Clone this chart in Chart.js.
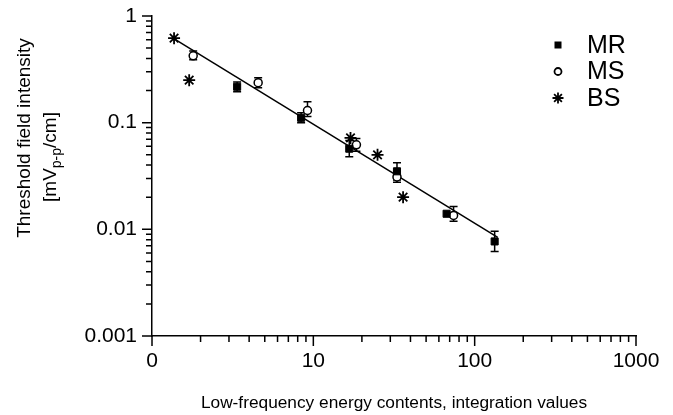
<!DOCTYPE html>
<html>
<head>
<meta charset="utf-8">
<script src="https://cdn.jsdelivr.net/npm/chart.js@4.4.0/dist/chart.umd.min.js"></script>
<style>
  body { margin: 0; background: #fff; }
</style>
</head>
<body>
<canvas id="thresholdChart" width="673" height="415"></canvas>
<script>
const FONT = "'Liberation Sans', Arial, sans-serif";

// MR group: energy contents, threshold and error range
const mrEnergy    = [3.37, 8.4, 16.7, 33, 67, 133];
const mrThreshold = [0.217, 0.111, 0.057, 0.035, 0.014, 0.0077];
const mrLow       = [0.195, 0.1, 0.048, 0.029, null, 0.0062];
const mrHigh      = [0.241, 0.124, 0.068, 0.042, null, 0.0096];

// MS group
const msEnergy    = [1.8, 4.55, 9.2, 18.5, 33, 74];
const msThreshold = [0.423, 0.237, 0.13, 0.062, 0.031, 0.0135];
const msLow       = [0.388, 0.212, 0.114, 0.054, 0.0276, 0.0119];
const msHigh      = [0.47, 0.263, 0.157, 0.071, 0.035, 0.0164];

// BS group (no error bars)
const bsEnergy    = [1.37, 1.7, 17, 25, 36];
const bsThreshold = [0.62, 0.25, 0.072, 0.05, 0.02];

// regression line end points
const fitEnergy    = [1.35, 139];
const fitThreshold = [0.62, 0.0084];

const xDecades = [1, 10, 100, 1000];
const xTickLabels = ['0', '10', '100', '1000'];
const yDecades = [0.001, 0.01, 0.1, 1];
const yTickLabels = ['0.001', '0.01', '0.1', '1'];

function points(xs, ys) {
  return xs.map((x, i) => ({ x: x, y: ys[i] }));
}

// 1..9 per decade, decades flagged as major
function logTicks(decades) {
  const ticks = [];
  for (let d = 0; d < decades.length - 1; d++) {
    for (let k = 1; k <= 9; k++) {
      ticks.push({ value: k === 1 ? decades[d] : decades[d] * k, major: k === 1 });
    }
  }
  ticks.push({ value: decades[decades.length - 1], major: true });
  return ticks;
}

const errorBars = {
  id: 'errorBars',
  beforeDatasetsDraw(chart) {
    const ctx = chart.ctx;
    const xs = chart.scales.x, ys = chart.scales.y;
    const groups = [[mrEnergy, mrLow, mrHigh], [msEnergy, msLow, msHigh]];
    ctx.save();
    ctx.strokeStyle = '#000';
    ctx.lineWidth = 1.5;
    groups.forEach(([ex, lo, hi]) => {
      ex.forEach((x, i) => {
        if (lo[i] == null) return;
        const px = xs.getPixelForValue(x);
        const y1 = ys.getPixelForValue(lo[i]);
        const y2 = ys.getPixelForValue(hi[i]);
        ctx.beginPath();
        ctx.moveTo(px, y1); ctx.lineTo(px, y2);
        ctx.moveTo(px - 4, y1); ctx.lineTo(px + 4, y1);
        ctx.moveTo(px - 4, y2); ctx.lineTo(px + 4, y2);
        ctx.stroke();
      });
    });
    ctx.restore();
  }
};

// outward tick marks, longer on decades
const axisTicks = {
  id: 'axisTicks',
  afterDraw(chart) {
    const ctx = chart.ctx;
    const area = chart.chartArea;
    const xs = chart.scales.x, ys = chart.scales.y;
    ctx.save();
    ctx.strokeStyle = '#000';
    ctx.lineWidth = 1.5;
    ctx.beginPath();
    xs.ticks.forEach(t => {
      const px = xs.getPixelForValue(t.value);
      ctx.moveTo(px, area.bottom);
      ctx.lineTo(px, area.bottom + (t.major ? 10 : 6));
    });
    ys.ticks.forEach(t => {
      const py = ys.getPixelForValue(t.value);
      ctx.moveTo(area.left, py);
      ctx.lineTo(area.left - (t.major ? 10 : 6), py);
    });
    ctx.stroke();
    ctx.restore();
  }
};

// two-line rotated y title with p-p subscript
const yTitle = {
  id: 'yTitle',
  afterDraw(chart) {
    const ctx = chart.ctx;
    ctx.save();
    ctx.fillStyle = '#000';
    ctx.textBaseline = 'middle';
    ctx.translate(25, 138);
    ctx.rotate(-Math.PI / 2);
    ctx.font = '19px ' + FONT;
    ctx.textAlign = 'center';
    ctx.fillText('Threshold field intensity', 0, 0);
    ctx.restore();

    ctx.save();
    ctx.fillStyle = '#000';
    ctx.textBaseline = 'middle';
    ctx.translate(51, 157);
    ctx.rotate(-Math.PI / 2);
    ctx.textAlign = 'left';
    const mainFont = '19px ' + FONT, subFont = '14px ' + FONT;
    ctx.font = mainFont;
    const w1 = ctx.measureText('[mV').width;
    const w3 = ctx.measureText('/cm]').width;
    ctx.font = subFont;
    const w2 = ctx.measureText('p-p').width;
    let x = -(w1 + w2 + w3) / 2;
    ctx.font = mainFont;
    ctx.fillText('[mV', x, 0);
    x += w1;
    ctx.font = subFont;
    ctx.fillText('p-p', x, 6);
    x += w2;
    ctx.font = mainFont;
    ctx.fillText('/cm]', x, 0);
    ctx.restore();
  }
};

function drawMarker(ctx, style, x, y) {
  ctx.beginPath();
  if (style === 'rect') {
    ctx.fillStyle = '#000';
    ctx.fillRect(x - 3.5, y - 3.5, 7, 7);
  } else if (style === 'circle') {
    ctx.fillStyle = '#fff';
    ctx.lineWidth = 1.8;
    ctx.arc(x, y, 3.5, 0, Math.PI * 2);
    ctx.fill();
    ctx.stroke();
  } else {
    ctx.lineWidth = 1.8;
    const r = 5.5;
    for (let a = 0; a < 4; a++) {
      const ang = a * Math.PI / 4;
      ctx.moveTo(x - r * Math.cos(ang), y - r * Math.sin(ang));
      ctx.lineTo(x + r * Math.cos(ang), y + r * Math.sin(ang));
    }
    ctx.stroke();
  }
}

const groupLegend = {
  id: 'groupLegend',
  afterDraw(chart) {
    const ctx = chart.ctx;
    const rows = chart.data.datasets.filter(d => d.legendRow != null);
    ctx.save();
    ctx.strokeStyle = '#000';
    ctx.font = '25px ' + FONT;
    ctx.textBaseline = 'middle';
    rows.forEach(d => {
      const y = 45 + d.legendRow * 26.5;
      drawMarker(ctx, d.pointStyle, 558, y);
      ctx.fillStyle = '#000';
      ctx.fillText(d.label, 587, y + 1);
    });
    ctx.restore();
  }
};

new Chart(document.getElementById('thresholdChart'), {
  type: 'scatter',
  data: {
    datasets: [
      {
        label: 'MR',
        legendRow: 0,
        data: points(mrEnergy, mrThreshold),
        pointStyle: 'rect',
        pointRadius: 5,
        backgroundColor: '#000',
        borderColor: '#000',
        borderWidth: 1
      },
      {
        label: 'MS',
        legendRow: 1,
        data: points(msEnergy, msThreshold),
        pointStyle: 'circle',
        pointRadius: 4,
        backgroundColor: '#fff',
        borderColor: '#000',
        borderWidth: 1.5
      },
      {
        label: 'BS',
        legendRow: 2,
        data: points(bsEnergy, bsThreshold),
        pointStyle: 'star',
        pointRadius: 6,
        backgroundColor: '#000',
        borderColor: '#000',
        borderWidth: 1.8
      },
      {
        label: 'fit',
        data: points(fitEnergy, fitThreshold),
        showLine: true,
        borderColor: '#000',
        borderWidth: 1.5,
        pointRadius: 0
      }
    ]
  },
  options: {
    responsive: false,
    animation: false,
    layout: { padding: { top: 16, right: 37, left: 0, bottom: 0 } },
    plugins: {
      legend: { display: false },
      tooltip: { enabled: false }
    },
    scales: {
      x: {
        type: 'logarithmic',
        min: 1,
        max: 1000,
        afterBuildTicks: s => { s.ticks = logTicks(xDecades); },
        afterFit: s => { s.height = 79; s.paddingLeft = 0; s.paddingRight = 0; },
        grid: { display: false },
        border: { display: true, color: '#000', width: 1.5 },
        ticks: {
          autoSkip: false,
          maxRotation: 0,
          padding: 5,
          color: '#000',
          font: { family: FONT, size: 21 },
          callback: v => {
            const i = xDecades.indexOf(v);
            return i >= 0 ? xTickLabels[i] : '';
          }
        },
        title: {
          display: true,
          text: 'Low-frequency energy contents, integration values',
          color: '#000',
          font: { family: FONT, size: 17.3 },
          padding: { top: 0, bottom: 1 }
        }
      },
      y: {
        type: 'logarithmic',
        min: 0.001,
        max: 1,
        afterBuildTicks: s => { s.ticks = logTicks(yDecades); },
        afterFit: s => { s.width = 152; s.paddingTop = 0; s.paddingBottom = 0; },
        grid: { display: false },
        border: { display: true, color: '#000', width: 1.5 },
        ticks: {
          autoSkip: false,
          padding: 7,
          color: '#000',
          font: { family: FONT, size: 21 },
          callback: v => {
            const i = yDecades.indexOf(v);
            return i >= 0 ? yTickLabels[i] : '';
          }
        }
      }
    }
  },
  plugins: [errorBars, axisTicks, yTitle, groupLegend]
});
</script>
</body>
</html>
